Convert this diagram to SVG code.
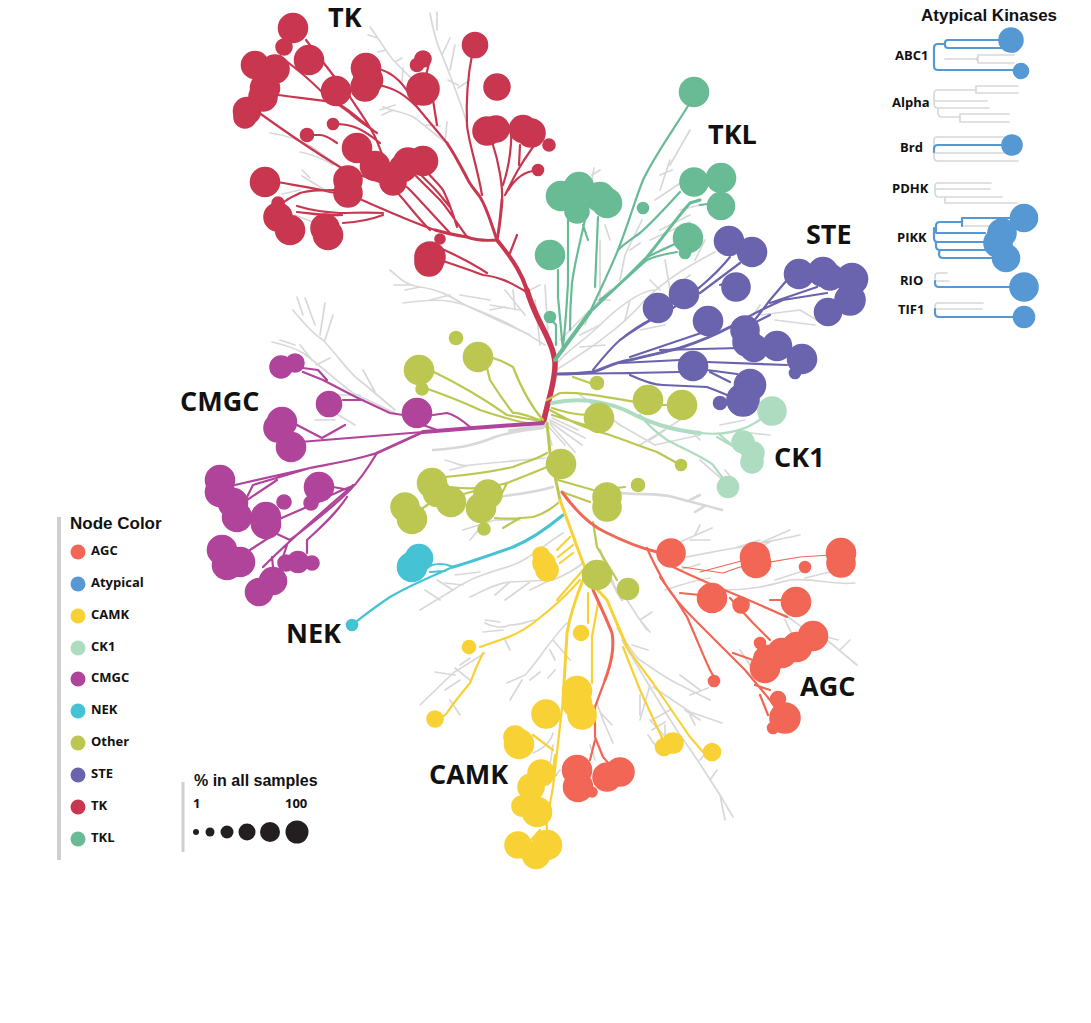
<svg xmlns="http://www.w3.org/2000/svg" width="1091" height="1023" viewBox="0 0 1091 1023">
<style>
.l{fill:none;stroke-linecap:round;stroke-linejoin:round}
.gy{stroke:#d8d8d8}.tk{stroke:#c8374f}.tkl{stroke:#68bb94}.ste{stroke:#6a63ae}.ck1{stroke:#aedcc0}.ot{stroke:#bcc752}.cm{stroke:#b0449b}.nek{stroke:#45c2d4}.ca{stroke:#f8d134}.ag{stroke:#f26655}.at{stroke:#5598d3}
.w1{stroke-width:1.2}.w2{stroke-width:2.2}.w3{stroke-width:3}.w4{stroke-width:4}.w5{stroke-width:5.5}
#grey-branches .w2,#atypical-branches .gy{stroke-width:1.7}#grey-branches .w3{stroke-width:2.6}
.Ftk{fill:#c8374f;stroke:#c8374f}.Ftkl{fill:#68bb94;stroke:#68bb94}.Fste{fill:#6a63ae;stroke:#6a63ae}.Fck1{fill:#aedcc0;stroke:#aedcc0}.Fot{fill:#bcc752;stroke:#bcc752}.Fcm{fill:#b0449b;stroke:#b0449b}.Fnek{fill:#45c2d4;stroke:#45c2d4}.Fca{fill:#f8d134;stroke:#f8d134}.Fag{fill:#f26655;stroke:#f26655}.Fat{fill:#5598d3;stroke:#5598d3}.Fk{fill:#231f20}
circle{stroke-width:1.6}#legend-color circle{stroke-width:0}
text{font-family:"Open Sans","Liberation Sans",sans-serif;font-weight:700;fill:#111}
.big{font-size:27px}.sm{font-size:13px}.h{font-family:"Liberation Sans",Arial,sans-serif;font-size:17px}
</style>
<rect width="1091" height="1023" fill="#fff"/>
<g id="connectors">
<g id="grey-branches" class="l gy">
<path class="w2" d="M370 27C380 40 388 55 395 62L413 80M378 38L368 35M386 50L378 52M395 62L402 58M403 68L402 82"/>
<path class="w2" d="M430 13C433 30 437 45 442 55C450 75 458 95 467 123M437 12L437 30M442 55L450 38M450 70L455 45M458 88L470 80M458 85L448 80"/>
<path class="w2" d="M383 107C395 112 405 112 415 118L445 142M380 110L395 105M393 110L382 115M426 125L440 126M445 142L447 122"/>
<path class="w2" d="M270 133C285 135 300 140 312 147L340 167M300 152C315 155 325 160 333 165"/>
<path class="w2" d="M302 176L325 190M282 194L300 190M295 215L320 225M310 178L302 170"/>
<path class="w2" d="M390 270C400 278 405 285 420 287C440 290 448 295 465 305L530 335M394 285L413 285M490 310L505 307M420 287L405 290"/>
<path class="w2" d="M403 303C425 300 445 298 465 305C490 315 515 325 545 345M430 300L450 295M460 295L490 300M490 305L520 310M505 290L525 315M513 290L515 310"/>
<path class="w2" d="M293 310C305 325 315 335 323 340C340 358 350 375 363 383L395 410M297 297L303 315M305 298L315 325M325 303L320 335M333 315L325 340M363 370L375 392"/>
<path class="w2" d="M272 342C285 345 295 348 303 353C320 365 335 380 353 393L395 413M280 340L295 345M300 345L312 360M316 365L330 358M330 410L355 425M315 420L335 420M325 395L360 395"/>
<path class="w3" d="M543 428C525 430 510 432 495 437C480 443 465 448 433 450"/>
<path class="w4" d="M545 426L510 431"/>
<path class="w2" d="M445 460C455 462 462 468 470 465L545 458M450 470L470 465"/>
<path class="w3" d="M495 497C515 495 535 492 553 487"/>
<path class="w2" d="M463 530L495 520L520 520M480 528L470 540"/>
<path class="w2" d="M563 533C540 548 525 562 510 566C490 572 470 578 453 590L420 610M453 590L437 580M463 585L445 583M480 572L455 575M440 600L425 590"/>
<path class="w2" d="M470 597C485 590 500 582 510 582L553 580C565 575 575 570 583 563M510 582L495 595M530 582L505 600M550 580L530 590"/>
<path class="w3" d="M620 493C640 495 660 493 673 497C690 502 705 505 722 510M690 500L700 495M705 506L695 512"/>
<path class="w2" d="M680 542L712 528M695 535L700 525M690 540L710 540M680 558C700 555 720 550 735 548C755 545 775 540 800 535M735 548L760 540M760 543L790 530M770 542L750 552"/>
<path class="w2" d="M680 570L700 564M665 590C680 585 695 580 710 578M720 590C755 590 770 585 790 580C815 578 830 585 855 583M775 580L800 572M805 578L830 572"/>
<path class="w2" d="M785 615C800 625 810 635 827 640L857 665M820 635L838 640M840 650L850 640M785 620L800 650M740 650L752 668"/>
<path class="w3" d="M600 550C607 570 615 590 622 600"/>
<path class="w2" d="M625 597L640 620L650 632M640 620L652 612M640 620L647 630"/>
<path class="w2" d="M420 705L453 673L485 653M435 672L455 675M455 668L470 680M445 690L460 680M460 665L470 658M450 700L460 715"/>
<path class="w2" d="M485 623C495 628 503 628 510 625C520 625 525 622 535 620M483 632L503 630M485 620L500 622M505 640L510 650"/>
<path class="w2" d="M507 683L525 675C535 665 550 640 567 623M510 700L522 680M550 650L555 660M553 640L570 660M530 680L540 672M555 670L548 678"/>
<path class="w2" d="M617 628C625 640 633 655 640 660C655 670 665 678 680 685L710 700M680 675L700 690M690 695L708 688M632 645L648 650"/>
<path class="w2" d="M653 687C665 695 680 705 690 712L722 723M685 710L700 720M640 695L640 715M690 715L695 725"/>
<path class="w2" d="M622 640C640 670 660 705 680 735C695 755 710 780 720 795L733 817M720 795L725 820M710 780L717 770M700 760L712 745"/>
<path class="w2" d="M597 703L603 720L613 743M600 712L612 725M650 685L640 720M652 720L670 710M652 730L665 722M650 720L668 740M665 725L665 745M648 735L655 745"/>
<path class="w2" d="M553 733C550 745 540 750 533 753M553 745L550 765M560 770L548 785M590 745L595 760"/>
<path class="w2" d="M550 420L585 438M550 422L582 445M550 424L575 452M548 426L565 445M547 428L552 445M552 418L578 430M580 335L600 325M560 340L590 310L610 290M590 310L585 325M595 300L610 300"/>
<path class="w2" d="M558 362C570 348 585 340 600 325C615 310 640 290 655 290M580 347L605 345M630 300L625 320M650 280L660 290"/>
<path class="w2" d="M556 370C580 355 620 330 645 300C670 275 700 260 715 252M640 330L665 325M670 290L665 260M670 290L690 275M695 260L705 240"/>
<path class="w2" d="M600 240L600 300M592 175L600 170M594 168L592 180M605 225L610 240M535 300L540 345M545 285L548 335M540 285L530 290"/>
<path class="w2" d="M620 280L625 255L642 220M630 250L640 243M670 165L690 130M660 190L670 160M660 175L672 170M655 200L685 180M660 230L690 215"/>
<path class="w2" d="M680 210L700 205M650 240L690 222M660 250L700 235M775 320L815 325M760 315L800 310L820 322M750 320L760 305"/>
<path class="w2" d="M580 395L620 425L655 445L700 435M720 425L745 420M690 430L700 440"/>
<path class="w2" d="M640 445L680 420M650 440L665 430M740 432L770 435M725 470L735 482M700 460L725 482"/>
</g>
<g id="tk-branches" class="l tk">
<path class="w5" d="M544 420C548 400 556 380 555 362C553 340 535 320 527 290"/>
<path class="w4" d="M527 290C522 275 515 262 497 240"/>
<path class="w3" d="M497 240C485 241 475 240 467 237C455 235 445 233 435 230"/>
<path class="w2" d="M435 230C412 222 392 213 362 200M450 233C430 212 420 200 408 188C395 178 385 172 373 170M467 237C455 220 445 205 440 200L410 170M457 227C452 210 448 200 443 190C438 183 432 178 427 172M450 207C444 200 438 192 433 187L422 176M383 213C365 212 355 213 340 213C320 212 310 210 297 206M383 215C370 220 360 222 343 223M335 193C315 188 300 186 277 182M335 190C320 190 310 190 300 193C295 196 288 198 283 203M297 212C315 214 325 216 342 215"/>
<path class="w2" d="M430 230C415 215 405 200 393 188C375 178 355 175 340 167C320 155 290 135 258 112M393 185C385 165 380 145 373 133C365 118 355 105 350 97L306 40M373 130C360 120 350 110 337 103C320 100 300 98 278 95M380 143C370 135 362 130 357 128C350 125 345 124 335 124M337 143C330 138 325 135 320 135L310 135M377 133C365 125 355 118 350 113C340 106 335 102 327 97C318 88 310 80 300 72L280 56"/>
<path class="w3" d="M497 240C490 220 487 208 480 197C475 190 470 185 467 178C460 165 455 155 447 143"/>
<path class="w2" d="M447 143L417 107C405 85 395 72 375 68M417 107C405 95 395 88 378 85M437 125L433 100M425 80L429 63M482 195C478 170 468 140 467 125C466 100 468 75 472 55"/>
<path class="w3" d="M497 240C500 225 501 212 502 200"/>
<path class="w2" d="M502 200C503 185 498 160 493 145M503 185C510 165 512 140 511 130M505 195C512 183 520 173 533 171M506 193C515 175 520 165 533 147M519 165L520 145"/>
<path class="w2" d="M528 293C510 282 500 277 483 275C470 270 455 265 440 260M487 273C475 265 460 257 440 248M510 253L517 235"/>
</g>
<g id="tkl-branches" class="l tkl">
<path class="w4" d="M555 360L590 312"/>
<path class="w3" d="M590 312L627 277L647 257C665 235 675 220 690 203L700 200"/>
<path class="w2" d="M590 312C600 290 610 270 618 250C628 225 635 200 643 180C655 155 670 135 688 106"/>
<path class="w2" d="M618 250C625 243 633 238 640 233C655 220 668 205 680 192M600 300C620 285 635 270 647 260C655 256 665 254 677 252M647 257L677 243M700 205L715 203"/>
<path class="w2" d="M563 350L558 297L558 270M563 347C566 320 567 300 568 283L568 220M570 330C570 310 571 295 572 283C575 260 582 235 587 210M595 287L598 217M556 345L556 325L550 318M583 225L588 240"/>
</g>
<g id="ste-branches" class="l ste">
<path class="w3" d="M557 374C570 374 585 373 593 372C605 368 615 362 630 360C650 355 665 352 680 348C695 343 715 335 730 327"/>
<path class="w2" d="M730 327C750 315 765 308 783 300L827 293M593 370C605 355 612 347 620 340C630 332 640 325 650 320M620 340C640 325 660 315 673 308C685 300 692 293 700 287C712 277 722 267 730 257M700 293L740 263M720 285L727 283M630 357L710 330M620 363L680 360M557 374L630 373L680 372M630 375C645 382 655 385 663 385L707 387C715 390 720 392 727 395M707 362L787 365M707 370L737 374M660 350L740 348M747 330L770 300L787 280M770 303L817 287M710 372L730 382M740 330L770 315"/>
</g>
<g id="ck1-branches" class="l ck1">
<path class="w4" d="M552 403C575 398 600 400 625 410C650 423 670 430 700 433"/>
<path class="w2" d="M700 433C735 437 755 425 770 412M640 415C650 428 660 435 667 440C690 452 705 458 713 465L728 485M717 437L743 452M720 435L748 458"/>
</g>
<g id="other-branches" class="l ot">
<path class="w2" d="M543 420C530 405 520 385 513 367C505 362 500 360 490 357M540 420C525 415 518 412 513 413C503 400 495 388 490 380L487 368M540 421C525 418 515 417 507 415C490 403 465 387 430 370M538 423L527 423C510 420 495 415 480 410C465 403 445 395 425 388"/>
<path class="w2" d="M547 400L560 393C580 392 600 396 636 402M660 405L670 405M573 377L590 383M552 408C565 412 575 415 590 415M550 410C565 418 575 425 610 435C630 442 645 448 657 452L677 463M552 415L585 425"/>
<path class="w3" d="M547 423L550 453L560 500"/>
<path class="w2" d="M547 453C535 460 525 462 513 467C490 472 470 475 445 477M547 467C535 472 520 478 507 483C490 488 470 490 450 487M507 483L502 493M558 480L593 490M562 492L590 502M558 503C550 510 540 515 533 517C520 518 510 520 495 518M520 518L503 528M423 508L430 503M460 495L478 490M593 522L597 547L617 580M600 490L625 487"/>
</g>
<g id="cmgc-branches" class="l cm">
<path class="w4" d="M543 423L473 428L423 432"/>
<path class="w2" d="M423 432L300 442M297 425L322 438M345 425L322 438"/>
<path class="w3" d="M423 432L377 453"/>
<path class="w2" d="M377 453C355 460 335 463 310 468L235 485M377 453C368 468 360 480 350 490C335 505 310 525 290 540L275 533M310 468L253 485L247 497M277 480L247 500M350 487C335 493 325 497 323 500L277 520M350 490L333 487M353 485C325 510 295 535 263 567M347 497C335 515 320 528 307 540L307 553M273 535L250 550M287 545L283 557M272 557L273 567M303 372L323 380C345 392 365 402 390 413L403 415M303 368L318 370L327 380M343 400L363 400M433 415L447 413C455 415 462 420 470 427M423 425L437 430"/>
</g>
<g id="nek-branches" class="l nek">
<path class="w3" d="M563 515C545 530 530 540 513 547C490 555 470 562 453 567"/>
<path class="w2" d="M453 567C430 577 410 585 390 597C375 607 362 617 352 625M453 567C445 563 435 563 427 567M445 571L430 572"/>
</g>
<g id="camk-branches" class="l ca">
<path class="w3" d="M560 500L583 563L593 585"/>
<path class="w3" d="M593 585L607 600L627 647"/>
<path class="w2" d="M627 647C635 660 645 672 653 683L690 737L703 752M623 647L640 690L657 727L663 740"/>
<path class="w3" d="M583 580C575 600 570 615 567 633L563 700"/>
<path class="w2" d="M563 700L553 787L547 820M580 580C565 597 550 610 537 620C525 630 510 637 500 640L480 647M483 653C477 665 473 675 470 683C460 695 452 705 447 713L440 719M588 593L588 623M598 603L592 637L592 683M553 750L533 735M556 775L540 770M583 570L557 600M570 537L557 550M573 545L558 557M573 553L560 563M545 800L547 830M531 840L540 830M555 755L553 770"/>
</g>
<g id="agc-branches" class="l ag">
<path class="w3" d="M562 492C575 510 590 525 605 532C625 542 640 548 657 552"/>
<path class="w2" d="M647 548C652 560 660 575 667 587C675 600 685 610 695 620C710 635 730 655 745 670L770 700L780 715M660 577C670 590 680 605 687 617C695 635 703 655 710 670L714 677M673 567C710 585 750 600 787 617M770 600L783 600M680 593L700 595M730 598L753 623L770 640M733 653L753 660M755 685L770 690M760 695L768 715"/>
<path class="w1" d="M682 567L723 573L740 567L800 557L830 555M700 572L745 560"/>
<path class="w3" d="M593 590C600 605 607 620 612 633C615 650 610 667 605 680"/>
<path class="w2" d="M605 680L595 707L595 737L603 757L610 765M595 740L590 760"/>
</g>
<g id="atypical-branches" class="l">
<path class="gy w2" d="M945 59H975M978 55H1014M978 63H1014M975 59q3 0 3-4v8q0-4-3-4"/>
<path class="at w2" d="M948 40H1005M948 48H1005M945 44V43q0-3 3-3M945 44v1q0 3 3 3M945 44H938q-4 0-4 4V66q0 4 4 4H1015"/>
<path class="gy w2" d="M938 90H976M976 86H1018M976 93H1018M976 86v7M938 90q-4 0-4 4V104q0 4 4 4H989M934 101H987M938 108v5q0 4 4 4H960M960 114H1009M960 122H1009M960 114v8"/>
<path class="gy w2" d="M934 150V140q0-3 3-3H1005M934 150v7q0 4 4 4H1018M934 153H1005"/>
<path class="at w2" d="M934 152V149q0-4 4-4H1005"/>
<path class="gy w2" d="M935 186q0-3 3-3H991M935 186v3H990M935 189v4q0 4 4 4H945M945 197H1002M945 197v6H1017"/>
<path class="gy w2" d="M962 226H990"/>
<path class="at w2" d="M936 228V226q0-4 4-4H962V218H1015M962 218v8M936 228v4q0 1 2 1H985M934 228V238q0 4 4 4H985M936 242V246q0 4 4 4H941q-2 0-2 4v0q0 4 4 4H995M939 250H985"/>
<path class="gy w2" d="M935 279V276q0-3 3-3H947M935 281H949"/>
<path class="at w2" d="M935 281V283q0 4 4 4H1010"/>
<path class="gy w2" d="M935 308V306q0-3 3-3H983M935 309H982"/>
<path class="at w2" d="M935 309V313q0 4 4 4H1015"/>
</g>
</g>
<g id="tk1" class="Ftk"><circle cx="293" cy="28" r="14.5"/></g><g id="tk2" class="Ftk"><circle cx="284" cy="47" r="8"/></g><g id="tk3" class="Ftk"><circle cx="309" cy="60" r="14.5"/></g><g id="tk4" class="Ftk"><circle cx="255" cy="65" r="13.5"/></g><g id="tk5" class="Ftk"><circle cx="275" cy="69" r="14"/></g><g id="tk6" class="Ftk"><circle cx="265" cy="88" r="14.5"/></g><g id="tk7" class="Ftk"><circle cx="263" cy="97" r="14"/></g><g id="tk8" class="Ftk"><circle cx="247" cy="111" r="13.5"/></g><g id="tk9" class="Ftk"><circle cx="245" cy="117" r="11"/></g><g id="tk10" class="Ftk"><circle cx="336" cy="91" r="14.5"/></g><g id="tk11" class="Ftk"><circle cx="366" cy="68" r="14.5"/></g><g id="tk12" class="Ftk"><circle cx="368" cy="80" r="14.5"/></g><g id="tk13" class="Ftk"><circle cx="365" cy="87" r="14"/></g><g id="tk14" class="Ftk"><circle cx="423" cy="89" r="16"/></g><g id="tk15" class="Ftk"><circle cx="423" cy="59" r="8"/></g><g id="tk16" class="Ftk"><circle cx="417" cy="65" r="6.5"/></g><g id="tk17" class="Ftk"><circle cx="475" cy="45" r="12.5"/></g><g id="tk18" class="Ftk"><circle cx="497" cy="87" r="13"/></g><g id="tk19" class="Ftk"><circle cx="487" cy="131" r="14"/></g><g id="tk20" class="Ftk"><circle cx="496" cy="129" r="13"/></g><g id="tk21" class="Ftk"><circle cx="523" cy="129" r="13.5"/></g><g id="tk22" class="Ftk"><circle cx="531" cy="133" r="14"/></g><g id="tk23" class="Ftk"><circle cx="549" cy="145" r="6"/></g><g id="tk24" class="Ftk"><circle cx="538" cy="170" r="5.5"/></g><g id="tk25" class="Ftk"><circle cx="333" cy="124" r="5.5"/></g><g id="tk26" class="Ftk"><circle cx="307" cy="135" r="6.5"/></g><g id="tk27" class="Ftk"><circle cx="357" cy="148" r="14.5"/></g><g id="tk28" class="Ftk"><circle cx="375" cy="166" r="14.5"/></g><g id="tk29" class="Ftk"><circle cx="393" cy="182" r="13"/></g><g id="tk30" class="Ftk"><circle cx="408" cy="162" r="14"/></g><g id="tk31" class="Ftk"><circle cx="403" cy="168" r="13.5"/></g><g id="tk32" class="Ftk"><circle cx="423" cy="161" r="14.5"/></g><g id="tk33" class="Ftk"><circle cx="265" cy="182" r="14.5"/></g><g id="tk34" class="Ftk"><circle cx="348" cy="180" r="14"/></g><g id="tk35" class="Ftk"><circle cx="348" cy="193" r="14"/></g><g id="tk36" class="Ftk"><circle cx="278" cy="203" r="6"/></g><g id="tk37" class="Ftk"><circle cx="278" cy="217" r="14"/></g><g id="tk38" class="Ftk"><circle cx="290" cy="230" r="14.5"/></g><g id="tk39" class="Ftk"><circle cx="325" cy="228" r="14"/></g><g id="tk40" class="Ftk"><circle cx="328" cy="235" r="14.5"/></g><g id="tk41" class="Ftk"><circle cx="430" cy="257" r="15"/></g><g id="tk42" class="Ftk"><circle cx="429" cy="262" r="14"/></g><g id="tk43" class="Ftk"><circle cx="440" cy="239" r="5"/></g>
<g id="tkl1" class="Ftkl"><circle cx="694" cy="92" r="14.5"/></g><g id="tkl2" class="Ftkl"><circle cx="694" cy="182" r="14"/></g><g id="tkl3" class="Ftkl"><circle cx="721" cy="178" r="14.5"/></g><g id="tkl4" class="Ftkl"><circle cx="721" cy="206" r="13.5"/></g><g id="tkl5" class="Ftkl"><circle cx="688" cy="238" r="14.5"/></g><g id="tkl6" class="Ftkl"><circle cx="685" cy="253" r="5.5"/></g><g id="tkl7" class="Ftkl"><circle cx="643" cy="208" r="5.5"/></g><g id="tkl8" class="Ftkl"><circle cx="561" cy="196" r="14.5"/></g><g id="tkl9" class="Ftkl"><circle cx="579" cy="187" r="14.5"/></g><g id="tkl10" class="Ftkl"><circle cx="577" cy="211" r="12"/></g><g id="tkl11" class="Ftkl"><circle cx="600" cy="197" r="14.5"/></g><g id="tkl12" class="Ftkl"><circle cx="607" cy="203" r="14.5"/></g><g id="tkl13" class="Ftkl"><circle cx="550" cy="255" r="14.5"/></g><g id="tkl14" class="Ftkl"><circle cx="550" cy="317" r="5.5"/></g>
<g id="ste1" class="Fste"><circle cx="729" cy="241" r="14.5"/></g><g id="ste2" class="Fste"><circle cx="752" cy="252" r="14.5"/></g><g id="ste3" class="Fste"><circle cx="736" cy="287" r="14"/></g><g id="ste4" class="Fste"><circle cx="684" cy="294" r="14.5"/></g><g id="ste5" class="Fste"><circle cx="658" cy="308" r="14.5"/></g><g id="ste6" class="Fste"><circle cx="708" cy="321" r="14.5"/></g><g id="ste7" class="Fste"><circle cx="799" cy="274" r="14.5"/></g><g id="ste8" class="Fste"><circle cx="823" cy="272" r="14.5"/></g><g id="ste9" class="Fste"><circle cx="830" cy="277" r="13"/></g><g id="ste10" class="Fste"><circle cx="852" cy="279" r="15.5"/></g><g id="ste11" class="Fste"><circle cx="850" cy="300" r="15"/></g><g id="ste12" class="Fste"><circle cx="828" cy="312" r="13.5"/></g><g id="ste13" class="Fste"><circle cx="745" cy="330" r="14"/></g><g id="ste14" class="Fste"><circle cx="747" cy="342" r="14"/></g><g id="ste15" class="Fste"><circle cx="754" cy="348" r="13.5"/></g><g id="ste16" class="Fste"><circle cx="777" cy="346" r="14.5"/></g><g id="ste17" class="Fste"><circle cx="802" cy="359" r="14.5"/></g><g id="ste18" class="Fste"><circle cx="795" cy="373" r="5.5"/></g><g id="ste19" class="Fste"><circle cx="693" cy="366" r="14.5"/></g><g id="ste20" class="Fste"><circle cx="750" cy="385" r="15.5"/></g><g id="ste21" class="Fste"><circle cx="743" cy="400" r="16"/></g><g id="ste22" class="Fste"><circle cx="720" cy="403" r="6.5"/></g>
<g id="ck1-1" class="Fck1"><circle cx="772" cy="411" r="14"/></g><g id="ck1-2" class="Fck1"><circle cx="743" cy="442" r="11"/></g><g id="ck1-3" class="Fck1"><circle cx="753" cy="453" r="11"/></g><g id="ck1-4" class="Fck1"><circle cx="752" cy="462" r="11"/></g><g id="ck1-5" class="Fck1"><circle cx="728" cy="487" r="10.5"/></g>
<g id="ot1" class="Fot"><circle cx="419" cy="370" r="14.5"/></g><g id="ot2" class="Fot"><circle cx="422" cy="389" r="6"/></g><g id="ot3" class="Fot"><circle cx="456" cy="338" r="6.5"/></g><g id="ot4" class="Fot"><circle cx="478" cy="357" r="14.5"/></g><g id="ot5" class="Fot"><circle cx="597" cy="383" r="6.5"/></g><g id="ot6" class="Fot"><circle cx="648" cy="400" r="14.5"/></g><g id="ot7" class="Fot"><circle cx="682" cy="405" r="14.5"/></g><g id="ot8" class="Fot"><circle cx="599" cy="418" r="14.5"/></g><g id="ot9" class="Fot"><circle cx="681" cy="465" r="5.5"/></g><g id="ot10" class="Fot"><circle cx="561" cy="464" r="14.5"/></g><g id="ot11" class="Fot"><circle cx="638" cy="485" r="6.5"/></g><g id="ot12" class="Fot"><circle cx="607" cy="497" r="14"/></g><g id="ot13" class="Fot"><circle cx="607" cy="507" r="14"/></g><g id="ot14" class="Fot"><circle cx="432" cy="483" r="14.5"/></g><g id="ot15" class="Fot"><circle cx="437" cy="493" r="13.5"/></g><g id="ot16" class="Fot"><circle cx="451" cy="502" r="14.5"/></g><g id="ot17" class="Fot"><circle cx="488" cy="494" r="14"/></g><g id="ot18" class="Fot"><circle cx="481" cy="508" r="14.5"/></g><g id="ot19" class="Fot"><circle cx="405" cy="507" r="14"/></g><g id="ot20" class="Fot"><circle cx="412" cy="519" r="14.5"/></g><g id="ot21" class="Fot"><circle cx="484" cy="529" r="6"/></g><g id="ot22" class="Fot"><circle cx="597" cy="575" r="14.5"/></g><g id="ot23" class="Fot"><circle cx="628" cy="589" r="10.5"/></g>
<g id="cm1" class="Fcm"><circle cx="281" cy="367" r="11"/></g><g id="cm2" class="Fcm"><circle cx="295" cy="363" r="9"/></g><g id="cm3" class="Fcm"><circle cx="329" cy="404" r="12.5"/></g><g id="cm4" class="Fcm"><circle cx="417" cy="413" r="14.5"/></g><g id="cm5" class="Fcm"><circle cx="282" cy="422" r="14.5"/></g><g id="cm6" class="Fcm"><circle cx="278" cy="428" r="14"/></g><g id="cm7" class="Fcm"><circle cx="291" cy="447" r="14.5"/></g><g id="cm8" class="Fcm"><circle cx="220" cy="480" r="14.5"/></g><g id="cm9" class="Fcm"><circle cx="220" cy="492" r="14.5"/></g><g id="cm10" class="Fcm"><circle cx="233" cy="503" r="14.5"/></g><g id="cm11" class="Fcm"><circle cx="237" cy="517" r="14.5"/></g><g id="cm12" class="Fcm"><circle cx="284" cy="502" r="7"/></g><g id="cm13" class="Fcm"><circle cx="319" cy="487" r="14.5"/></g><g id="cm14" class="Fcm"><circle cx="311" cy="503" r="7"/></g><g id="cm15" class="Fcm"><circle cx="266" cy="517" r="14.5"/></g><g id="cm16" class="Fcm"><circle cx="266" cy="524" r="14.5"/></g><g id="cm17" class="Fcm"><circle cx="222" cy="550" r="14.5"/></g><g id="cm18" class="Fcm"><circle cx="227" cy="565" r="14.5"/></g><g id="cm19" class="Fcm"><circle cx="240" cy="562" r="14.5"/></g><g id="cm20" class="Fcm"><circle cx="273" cy="581" r="13.5"/></g><g id="cm21" class="Fcm"><circle cx="259" cy="592" r="13.5"/></g><g id="cm22" class="Fcm"><circle cx="286" cy="563" r="8"/></g><g id="cm23" class="Fcm"><circle cx="298" cy="562" r="10.5"/></g><g id="cm24" class="Fcm"><circle cx="312" cy="563" r="7"/></g>
<g id="nek1" class="Fnek"><circle cx="419" cy="558" r="13.5"/></g><g id="nek2" class="Fnek"><circle cx="412" cy="567" r="14.5"/></g><g id="nek3" class="Fnek"><circle cx="352" cy="625" r="5.5"/></g>
<g id="ca1" class="Fca"><circle cx="541" cy="555" r="8"/></g><g id="ca2" class="Fca"><circle cx="544" cy="563" r="11"/></g><g id="ca3" class="Fca"><circle cx="547" cy="570" r="11"/></g><g id="ca4" class="Fca"><circle cx="469" cy="647" r="6.5"/></g><g id="ca5" class="Fca"><circle cx="435" cy="719" r="8"/></g><g id="ca6" class="Fca"><circle cx="581" cy="633" r="7.5"/></g><g id="ca7" class="Fca"><circle cx="577" cy="691" r="14.5"/></g><g id="ca8" class="Fca"><circle cx="577" cy="703" r="14.5"/></g><g id="ca9" class="Fca"><circle cx="582" cy="715" r="14"/></g><g id="ca10" class="Fca"><circle cx="546" cy="714" r="14"/></g><g id="ca11" class="Fca"><circle cx="515" cy="737" r="11"/></g><g id="ca12" class="Fca"><circle cx="519" cy="744" r="14.5"/></g><g id="ca13" class="Fca"><circle cx="541" cy="773" r="13"/></g><g id="ca14" class="Fca"><circle cx="531" cy="787" r="13"/></g><g id="ca15" class="Fca"><circle cx="522" cy="806" r="10"/></g><g id="ca16" class="Fca"><circle cx="537" cy="812" r="14.5"/></g><g id="ca17" class="Fca"><circle cx="518" cy="845" r="13"/></g><g id="ca18" class="Fca"><circle cx="547" cy="845" r="14.5"/></g><g id="ca19" class="Fca"><circle cx="536" cy="855" r="13.5"/></g><g id="ca20" class="Fca"><circle cx="664" cy="747" r="8.5"/></g><g id="ca21" class="Fca"><circle cx="673" cy="743" r="10"/></g><g id="ca22" class="Fca"><circle cx="712" cy="752" r="8.5"/></g>
<g id="ag1" class="Fag"><circle cx="671" cy="553" r="14"/></g><g id="ag2" class="Fag"><circle cx="755" cy="557" r="14.5"/></g><g id="ag3" class="Fag"><circle cx="756" cy="563" r="14.5"/></g><g id="ag4" class="Fag"><circle cx="841" cy="553" r="14.5"/></g><g id="ag5" class="Fag"><circle cx="841" cy="563" r="14"/></g><g id="ag6" class="Fag"><circle cx="805" cy="567" r="5.5"/></g><g id="ag7" class="Fag"><circle cx="712" cy="598" r="14.5"/></g><g id="ag8" class="Fag"><circle cx="741" cy="605" r="8"/></g><g id="ag9" class="Fag"><circle cx="796" cy="602" r="14.5"/></g><g id="ag10" class="Fag"><circle cx="760" cy="643" r="5.5"/></g><g id="ag11" class="Fag"><circle cx="813" cy="636" r="14.5"/></g><g id="ag12" class="Fag"><circle cx="797" cy="647" r="14.5"/></g><g id="ag13" class="Fag"><circle cx="782" cy="653" r="14.5"/></g><g id="ag14" class="Fag"><circle cx="768" cy="660" r="14.5"/></g><g id="ag14b" class="Fag"><circle cx="765" cy="668" r="14.5"/></g><g id="ag15" class="Fag"><circle cx="714" cy="681" r="5.5"/></g><g id="ag16" class="Fag"><circle cx="778" cy="699" r="7.5"/></g><g id="ag17" class="Fag"><circle cx="785" cy="718" r="15"/></g><g id="ag18" class="Fag"><circle cx="773" cy="728" r="5.5"/></g><g id="ag19" class="Fag"><circle cx="577" cy="770" r="14.5"/></g><g id="ag20" class="Fag"><circle cx="578" cy="787" r="14.5"/></g><g id="ag21" class="Fag"><circle cx="592" cy="792" r="5"/></g><g id="ag22" class="Fag"><circle cx="607" cy="777" r="14"/></g><g id="ag23" class="Fag"><circle cx="620" cy="772" r="14"/></g>
<g id="at1" class="Fat"><circle cx="1011" cy="40" r="12"/></g><g id="at2" class="Fat"><circle cx="1013" cy="45" r="7"/></g><g id="at3" class="Fat"><circle cx="1021" cy="71" r="7.5"/></g><g id="at4" class="Fat"><circle cx="1012" cy="145" r="10"/></g><g id="at5" class="Fat"><circle cx="1024" cy="218" r="13.5"/></g><g id="at6" class="Fat"><circle cx="1002" cy="233" r="14"/></g><g id="at7" class="Fat"><circle cx="998" cy="243" r="14"/></g><g id="at8" class="Fat"><circle cx="1006" cy="258" r="13.5"/></g><g id="at9" class="Fat"><circle cx="1024" cy="287" r="14"/></g><g id="at10" class="Fat"><circle cx="1024" cy="317" r="10.5"/></g>
<g id="family-labels">
<text class="big" x="328" y="27">TK</text><text class="big" x="708" y="144">TKL</text><text class="big" x="806" y="244">STE</text><text class="big" x="774" y="467">CK1</text><text class="big" x="800" y="696">AGC</text><text class="big" x="429" y="784">CAMK</text><text class="big" x="286" y="643">NEK</text><text class="big" x="180" y="411">CMGC</text>
</g>
<g id="atypical-labels">
<text class="h" x="921" y="21">Atypical Kinases</text>
<text class="sm" x="895" y="60">ABC1</text><text class="sm" x="892" y="107">Alpha</text><text class="sm" x="900" y="152">Brd</text><text class="sm" x="892" y="193">PDHK</text><text class="sm" x="897" y="242">PIKK</text><text class="sm" x="900" y="285">RIO</text><text class="sm" x="898" y="314">TIF1</text>
</g>
<g id="legend-color">
<rect x="57" y="517" width="4" height="343" fill="#cfcfcf"/>
<text class="h" x="70" y="529">Node Color</text>
<circle class="Fag" cx="78" cy="552" r="7.5"/><text class="sm" x="91" y="555">AGC</text>
<circle class="Fat" cx="78" cy="584" r="7.5"/><text class="sm" x="91" y="587">Atypical</text>
<circle class="Fca" cx="78" cy="616" r="7.5"/><text class="sm" x="91" y="619">CAMK</text>
<circle class="Fck1" cx="78" cy="648" r="7.5"/><text class="sm" x="91" y="651">CK1</text>
<circle class="Fcm" cx="78" cy="679" r="7.5"/><text class="sm" x="91" y="682">CMGC</text>
<circle class="Fnek" cx="78" cy="711" r="7.5"/><text class="sm" x="91" y="714">NEK</text>
<circle class="Fot" cx="78" cy="743" r="7.5"/><text class="sm" x="91" y="746">Other</text>
<circle class="Fste" cx="78" cy="775" r="7.5"/><text class="sm" x="91" y="778">STE</text>
<circle class="Ftk" cx="78" cy="807" r="7.5"/><text class="sm" x="91" y="810">TK</text>
<circle class="Ftkl" cx="78" cy="839" r="7.5"/><text class="sm" x="91" y="842">TKL</text>
</g>
<g id="legend-size">
<rect x="181.500" y="782" width="3" height="70" fill="#cfcfcf"/>
<text class="h" style="font-size:16px" x="194" y="786">% in all samples</text>
<text class="sm" x="193" y="808">1</text><text class="sm" x="285" y="808">100</text>
<circle class="Fk" cx="196" cy="832" r="3" stroke-width="0" style="stroke-width:0"/><circle class="Fk" cx="210" cy="832" r="4.500" style="stroke-width:0"/><circle class="Fk" cx="227" cy="832" r="6.500" style="stroke-width:0"/><circle class="Fk" cx="247" cy="832" r="8.500" style="stroke-width:0"/><circle class="Fk" cx="270" cy="832" r="10" style="stroke-width:0"/><circle class="Fk" cx="297" cy="832" r="11.500" style="stroke-width:0"/>
</g>
</svg>
